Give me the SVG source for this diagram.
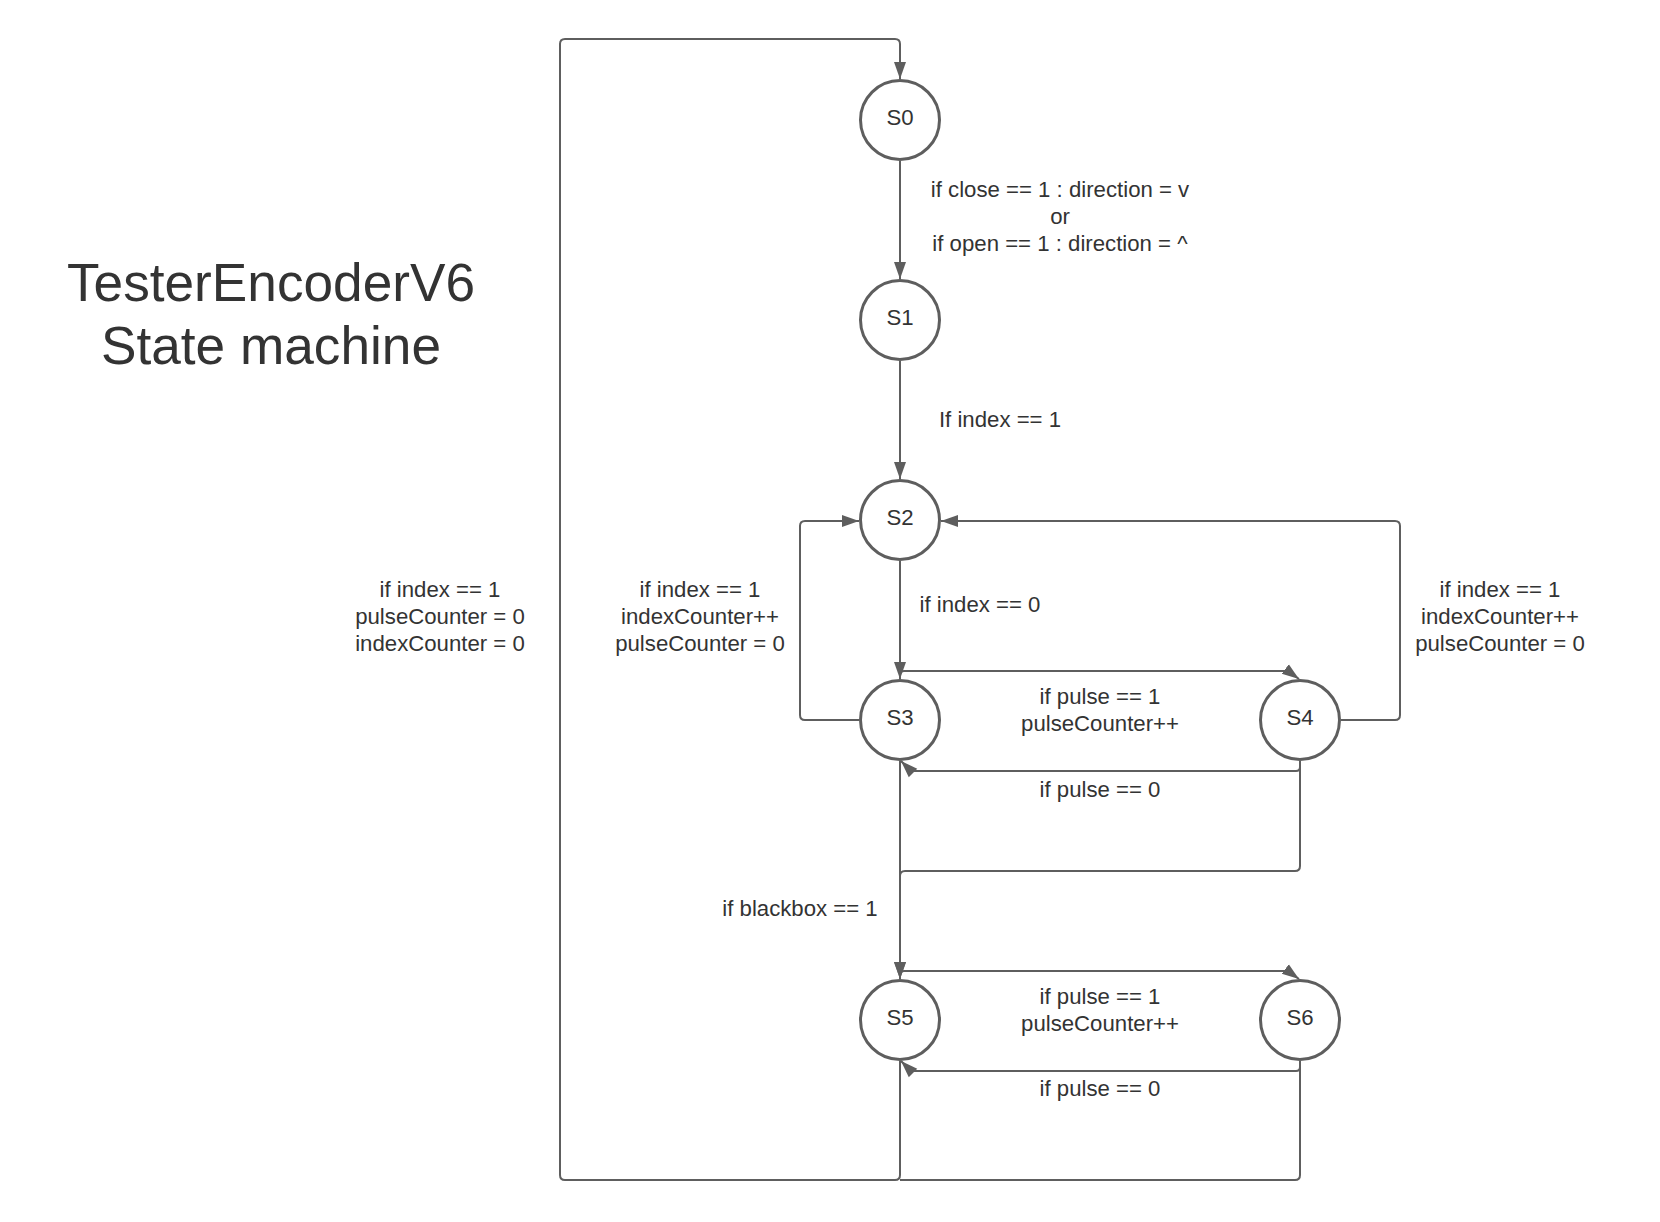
<svg xmlns="http://www.w3.org/2000/svg" width="1660" height="1222" viewBox="0 0 1660 1222">
<style>
.bg{fill:#ffffff}
.node circle{fill:#ffffff;stroke:#5e5e5e;stroke-width:3}
text{font-family:"Liberation Sans",Arial,sans-serif;fill:#333333;text-anchor:middle}
.lbl{font-size:22.2px}
.title{font-size:53.2px}
#connectors path{fill:none;stroke:#5e5e5e;stroke-width:2;stroke-linejoin:round}
</style>
<defs>
<marker id="arr" markerUnits="userSpaceOnUse" markerWidth="18" markerHeight="14" viewBox="0 0 18 14" refX="17" refY="7" orient="auto">
<path d="M0,1 L17,7 L0,13 z" fill="#5e5e5e"/>
</marker>
</defs>
<rect class="bg" x="0" y="0" width="1660" height="1222"/>

<g id="title">
<text class="title" x="271" y="301">TesterEncoderV6</text>
<text class="title" x="271" y="364">State machine</text>
</g>

<g id="connectors">
<path d="M900,1061 V1175 Q900,1180 895,1180 H565 Q560,1180 560,1175 V44 Q560,39 565,39 H895 Q900,39 900,44 V79" marker-end="url(#arr)"/>
<path d="M1300,1061 V1175 Q1300,1180 1295,1180 H900"/>
<path d="M900,161 V279" marker-end="url(#arr)"/>
<path d="M900,361 V479" marker-end="url(#arr)"/>
<path d="M900,561 V679" marker-end="url(#arr)"/>
<path d="M900,679 V675 Q900,671 904,671 H1288 L1299,679" marker-end="url(#arr)"/>
<path d="M1300,761 V767 Q1300,771 1296,771 H911 L901,761" marker-end="url(#arr)"/>
<path d="M1300,761 V866 Q1300,871 1295,871 H905 Q900,871 900,876 V979" marker-end="url(#arr)"/>
<path d="M900,761 V979" marker-end="url(#arr)"/>
<path d="M900,979 V975 Q900,971 904,971 H1288 L1299,979" marker-end="url(#arr)"/>
<path d="M1300,1061 V1067 Q1300,1071 1296,1071 H911 L901,1061" marker-end="url(#arr)"/>
<path d="M859,720 H805 Q800,720 800,715 V526 Q800,521 805,521 H859" marker-end="url(#arr)"/>
<path d="M1341,720 H1395 Q1400,720 1400,715 V526 Q1400,521 1395,521 H941" marker-end="url(#arr)"/>
</g>

<g id="edge-labels">
<text class="lbl" x="1060" y="197">if close == 1 : direction = v</text>
<text class="lbl" x="1060" y="224">or</text>
<text class="lbl" x="1060" y="251">if open == 1 : direction = ^</text>
<text class="lbl" x="1000" y="427">If index == 1</text>
<text class="lbl" x="980" y="612">if index == 0</text>
<text class="lbl" x="700" y="597">if index == 1</text>
<text class="lbl" x="700" y="624">indexCounter++</text>
<text class="lbl" x="700" y="651">pulseCounter = 0</text>
<text class="lbl" x="1500" y="597">if index == 1</text>
<text class="lbl" x="1500" y="624">indexCounter++</text>
<text class="lbl" x="1500" y="651">pulseCounter = 0</text>
<text class="lbl" x="440" y="597">if index == 1</text>
<text class="lbl" x="440" y="624">pulseCounter = 0</text>
<text class="lbl" x="440" y="651">indexCounter = 0</text>
<text class="lbl" x="1100" y="704">if pulse == 1</text>
<text class="lbl" x="1100" y="731">pulseCounter++</text>
<text class="lbl" x="1100" y="797">if pulse == 0</text>
<text class="lbl" x="800" y="916">if blackbox == 1</text>
<text class="lbl" x="1100" y="1004">if pulse == 1</text>
<text class="lbl" x="1100" y="1031">pulseCounter++</text>
<text class="lbl" x="1100" y="1096">if pulse == 0</text>
</g>

<g id="S0" class="node"><circle cx="900" cy="120" r="39.5"/><text class="lbl" x="900" y="125">S0</text></g>
<g id="S1" class="node"><circle cx="900" cy="320" r="39.5"/><text class="lbl" x="900" y="325">S1</text></g>
<g id="S2" class="node"><circle cx="900" cy="520" r="39.5"/><text class="lbl" x="900" y="525">S2</text></g>
<g id="S3" class="node"><circle cx="900" cy="720" r="39.5"/><text class="lbl" x="900" y="725">S3</text></g>
<g id="S4" class="node"><circle cx="1300" cy="720" r="39.5"/><text class="lbl" x="1300" y="725">S4</text></g>
<g id="S5" class="node"><circle cx="900" cy="1020" r="39.5"/><text class="lbl" x="900" y="1025">S5</text></g>
<g id="S6" class="node"><circle cx="1300" cy="1020" r="39.5"/><text class="lbl" x="1300" y="1025">S6</text></g>
</svg>
